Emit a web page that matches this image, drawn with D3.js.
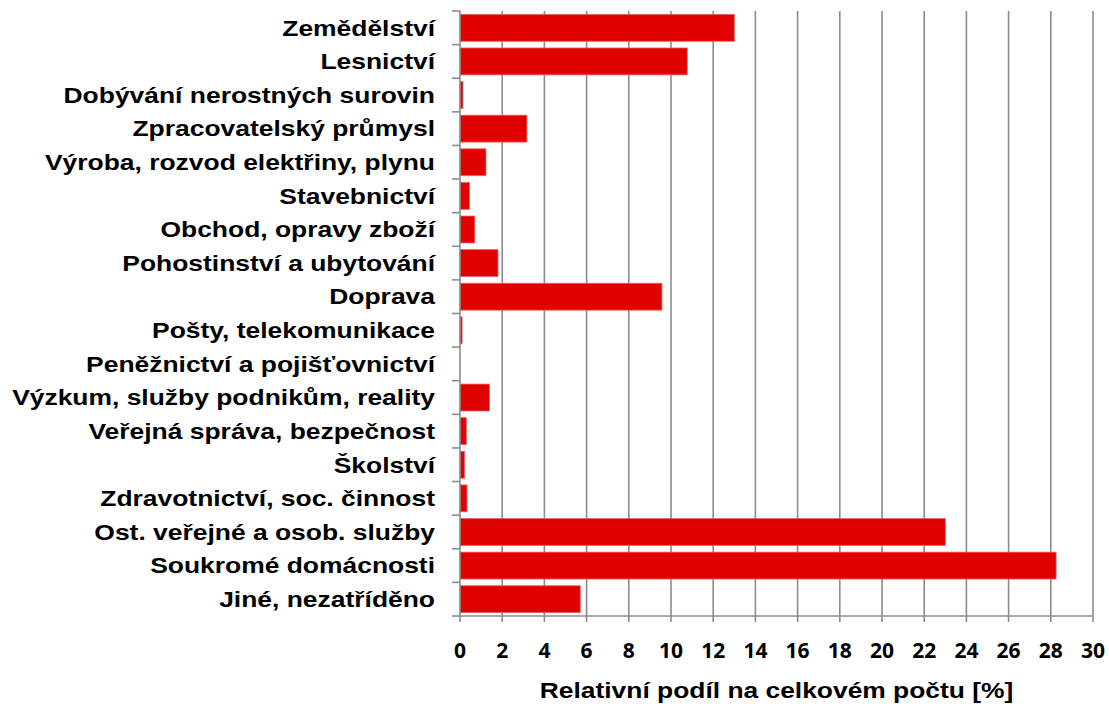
<!DOCTYPE html>
<html>
<head>
<meta charset="utf-8">
<script src="https://cdn.jsdelivr.net/npm/d3@7"></script>
<style>
  body { margin: 0; background: #fff; }
</style>
</head>
<body>
<div id="bar_chart"></div>
<script>
// --------------------------------------
//  Data
// --------------------------------------

const categories = [
  "Zemědělství",
  "Lesnictví",
  "Dobývání nerostných surovin",
  "Zpracovatelský průmysl",
  "Výroba, rozvod elektřiny, plynu",
  "Stavebnictví",
  "Obchod, opravy zboží",
  "Pohostinství a ubytování",
  "Doprava",
  "Pošty, telekomunikace",
  "Peněžnictví a pojišťovnictví",
  "Výzkum, služby podnikům, reality",
  "Veřejná správa, bezpečnost",
  "Školství",
  "Zdravotnictví, soc. činnost",
  "Ost. veřejné a osob. služby",
  "Soukromé domácnosti",
  "Jiné, nezatříděno"
];

const values = [13.0, 10.77, 0.14, 3.17, 1.23, 0.45, 0.7, 1.8, 9.57, 0.1, 0, 1.4, 0.3, 0.22, 0.33, 23.0, 28.25, 5.7];

const xTicks = d3.range(0, 31, 2);
const xTitle = "Relativní podíl na celkovém počtu [%]";

// --------------------------------------
//  Canvas
// --------------------------------------

const width = 1109, height = 704;
const margin = { top: 11, right: 16, bottom: 88, left: 460 };
const innerwidth = width - margin.left - margin.right;
const innerheight = height - margin.top - margin.bottom;

const svg = d3.select("#bar_chart")
  .append("svg")
  .attr("width", width)
  .attr("height", height)
  .attr("viewBox", [0, 0, width, height]);

const inner = svg.append("g")
  .attr("transform", `translate(${margin.left}, ${margin.top})`);

const x = d3.scaleLinear()
  .domain([0, 30])
  .range([0, innerwidth]);

const y = d3.scaleBand()
  .domain(categories)
  .range([0, innerheight])
  .paddingInner(0.2)
  .paddingOuter(0.1);

const step = y.step();
const gridColor = "#8c8c8c";
const stretch = 1.23; // labels in the original are widened

// vertical gridlines
inner.selectAll(".grid")
  .data(xTicks.slice(1))
  .join("line")
    .attr("x1", d => x(d)).attr("x2", d => x(d))
    .attr("y1", 0).attr("y2", innerheight)
    .attr("stroke", gridColor)
    .attr("stroke-width", 1.6);

// bars
inner.selectAll(".bar")
  .data(values)
  .join("rect")
    .attr("x", 0)
    .attr("y", (d, i) => y(categories[i]))
    .attr("width", d => x(d))
    .attr("height", y.bandwidth())
    .attr("fill", "#e00000")
    .attr("stroke", d => d > 0 ? "#f06060" : "none")
    .attr("stroke-width", 0.8);

// left axis line + ticks at band edges
inner.append("line")
  .attr("x1", 0).attr("x2", 0)
  .attr("y1", 0).attr("y2", innerheight)
  .attr("stroke", gridColor).attr("stroke-width", 1.6);

inner.selectAll(".ytick")
  .data(d3.range(categories.length + 1))
  .join("line")
    .attr("x1", -8).attr("x2", 0)
    .attr("y1", i => i * step).attr("y2", i => i * step)
    .attr("stroke", gridColor).attr("stroke-width", 1.6);

// bottom axis
inner.append("line")
  .attr("x1", 0).attr("x2", innerwidth)
  .attr("y1", innerheight).attr("y2", innerheight)
  .attr("stroke", gridColor).attr("stroke-width", 1.6);

inner.selectAll(".xtick")
  .data(xTicks)
  .join("line")
    .attr("x1", d => x(d)).attr("x2", d => x(d))
    .attr("y1", innerheight).attr("y2", innerheight + 6)
    .attr("stroke", gridColor).attr("stroke-width", 1.6);

// category labels
inner.selectAll(".ylabel")
  .data(categories)
  .join("text")
    .attr("transform", d => `translate(-25, ${y(d) + y.bandwidth() / 2}) scale(${stretch}, 1)`)
    .attr("dy", "0.36em")
    .attr("text-anchor", "end")
    .attr("font-family", "'Liberation Sans', Arial, sans-serif")
    .attr("font-weight", "bold")
    .attr("font-size", 21.5)
    .attr("fill", "#000")
    .text(d => d);

// x tick labels
inner.selectAll(".xlabel")
  .data(xTicks)
  .join("text")
    .attr("x", d => x(d))
    .attr("y", innerheight + 42)
    .attr("text-anchor", "middle")
    .attr("font-family", "'Open Sans', sans-serif")
    .attr("font-weight", "bold")
    .attr("font-size", 21)
    .attr("fill", "#000")
    .text(d => d);

// x axis title
inner.append("text")
  .attr("transform", `translate(${innerwidth / 2}, ${innerheight + 82}) scale(1.2, 1)`)
  .attr("text-anchor", "middle")
  .attr("font-family", "'Liberation Sans', Arial, sans-serif")
  .attr("font-weight", "bold")
  .attr("font-size", 22)
  .attr("fill", "#000")
  .text(xTitle);
</script>
</body>
</html>
